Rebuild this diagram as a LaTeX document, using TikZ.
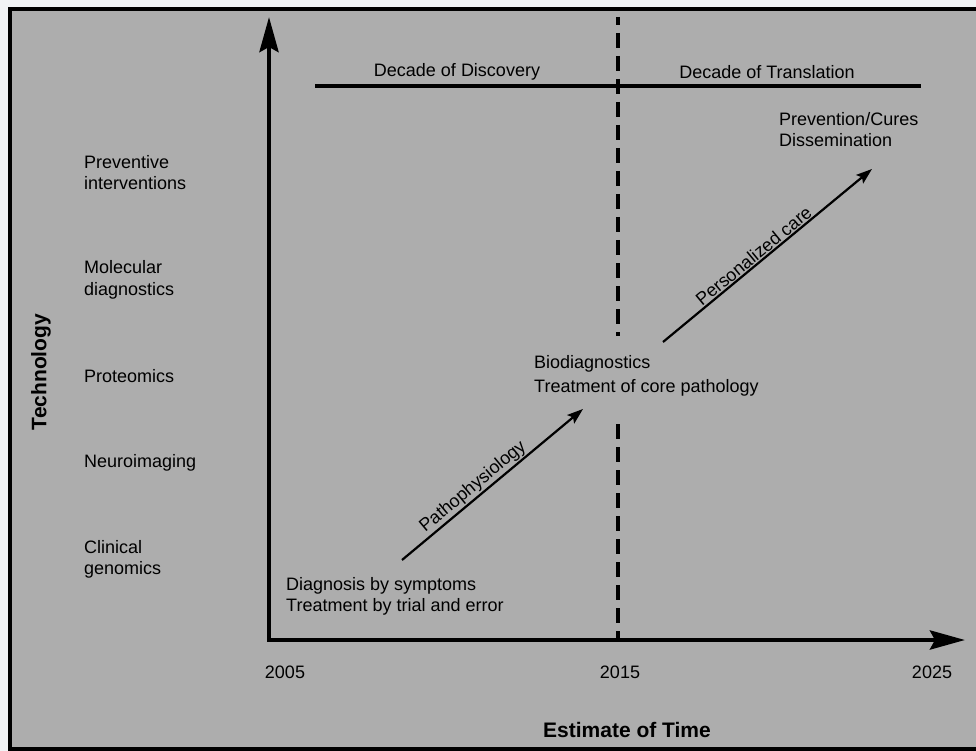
\documentclass[tikz,border=0pt]{standalone}
\usepackage{fontspec}
\setmainfont{Liberation Sans}
\usetikzlibrary{arrows.meta}
\definecolor{bg}{HTML}{ADADAD}
\definecolor{outerbg}{HTML}{F1F3F5}
\begin{document}
\begin{tikzpicture}[x=1pt,y=-1pt,
  lbl/.style={font=\fontsize{18}{21.5}\selectfont, inner sep=0pt, align=left},
  boldlbl/.style={font=\fontsize{21}{24}\selectfont\bfseries, inner sep=0pt},
  axis/.style={line width=4.5pt, {Stealth[length=35pt,width=19pt,inset=5pt]}-{Stealth[length=35pt,width=19pt,inset=5pt]}},
  trend/.style={line width=2.2pt, -{Stealth[length=16pt,width=11pt,inset=3pt]}},
  divider/.style={line width=4pt, dash pattern=on 15pt off 8pt, dash phase=7pt},
  timeline/.style={line width=3.5pt}
]
\useasboundingbox (0,0) rectangle (976,751);
\fill[outerbg] (0,0) rectangle (976,751);
\begin{scope}
  \clip (0,0) rectangle (976,751);
  \draw[line width=4pt, fill=bg] (9.5,9.5) rectangle (995,749);
\end{scope}

% axes
\coordinate (ytop) at (269,17);
\coordinate (O) at (269,640);
\coordinate (xend) at (965,640);
\draw[axis] (ytop) -- (O) -- (xend);

% divider and decades line
\coordinate (dtop) at (618,17);
\coordinate (dbot) at (618,640);
\draw[divider] (dtop) -- (dbot);
\coordinate (tl1) at (315,86);
\coordinate (tl2) at (921,86);
\draw[timeline] (tl1) -- (tl2);
\node[lbl] (dd) at (457,72) {Decade of Discovery};
\node[lbl] (dt) at (767,72) {Decade of Translation};

% technology labels
\node[lbl, anchor=west] (pi) at (84,172.5) {Preventive\\interventions};
\node[lbl, anchor=west] (md) at (84,280) {Molecular\\diagnostics};
\node[lbl, anchor=west] (pr) at (84,376) {Proteomics};
\node[lbl, anchor=west] (ni) at (84,463) {Neuroimaging};
\node[lbl, anchor=west] (cg) at (84,559.5) {Clinical\\genomics};
\node[boldlbl, rotate=90] (tech) at (41,372) {Technology};

% years
\node[lbl] (y05) at (285,672) {2005};
\node[lbl] (y15) at (620,672) {2015};
\node[lbl] (y25) at (932,672) {2025};
\node[boldlbl] (est) at (627,730) {Estimate of Time};

% stages
\node[lbl, anchor=west] (diag) at (286,596.5) {Diagnosis by symptoms\\Treatment by trial and error};
\node[lbl, font=\fontsize{18}{24}\selectfont, anchor=west, fill=bg, inner xsep=2pt, inner ysep=20pt] (bio) at (532,376) {Biodiagnostics\\Treatment of core pathology};
\node[lbl, anchor=west] (prev) at (779,129.5) {Prevention/Cures\\Dissemination};

% trend arrows
\coordinate (p1s) at (402,560);
\coordinate (p1e) at (583,409);
\draw[trend] (p1s) -- node[lbl, pos=0.43, sloped, above, inner sep=1pt] (pp) {Pathophysiology} (p1e);
\coordinate (p2s) at (663,342);
\coordinate (p2e) at (872,169);
\draw[trend] (p2s) -- node[lbl, pos=0.46, sloped, above, inner sep=1pt] (pc) {Personalized care} (p2e);
\end{tikzpicture}
\end{document}
